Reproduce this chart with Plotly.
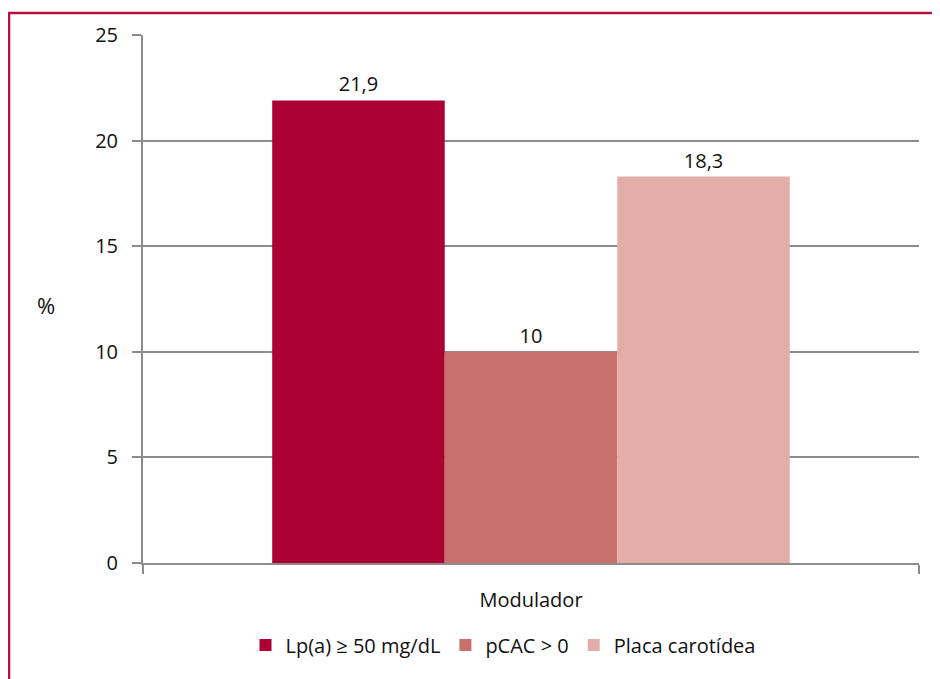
import plotly.graph_objects as go

categories = ["Modulador"]
series_names = ["Lp(a) \u2265 50 mg/dL", "pCAC > 0", "Placa carot\u00eddea"]
series_values = [21.9, 10, 18.3]
series_labels = ["21,9", "10", "18,3"]
series_colors = ["#AC0233", "#C8706B", "#E4AEA8"]
y_ticks = [0, 5, 10, 15, 20, 25]

W, H = 940, 679
OFF = 8  # page body margin
# target plot area in screen coordinates
sx0, sx1, sy0, sy1 = 143, 919, 35, 563
L, T = sx0 - OFF, sy0 - OFF
R = W - (sx1 - OFF)
B = H - (sy1 - OFF)
pw, ph = sx1 - sx0, sy1 - sy0


def px(x):
    return (x - sx0) / pw


def py(y):
    return (sy1 - y) / ph


FONT = "Open Sans"
FS = 20
fig = go.Figure()
for name, v, lab, c in zip(series_names, series_values, series_labels, series_colors):
    fig.add_trace(go.Bar(
        x=categories, y=[v], name=name, marker=dict(color=c, line=dict(width=0)),
        text=[lab], textposition="outside", cliponaxis=False,
        textfont=dict(size=FS, color="#111111", family=FONT),
    ))

# outer border (left + top visible)
fig.add_shape(type="rect", xref="paper", yref="paper",
              x0=px(9), x1=px(W + 20), y0=py(H + 30), y1=py(13),
              line=dict(color="#B5123F", width=2.5), layer="below")

fig.update_layout(
    width=W, height=H,
    margin=dict(l=L, r=R, t=T, b=B, pad=0),
    paper_bgcolor="white", plot_bgcolor="white",
    barmode="group", bargap=0.333, bargroupgap=0,
    font=dict(family=FONT, size=FS, color="#111111"),
    showlegend=True,
    legend=dict(orientation="h", x=px(503), xanchor="center", y=py(645), yanchor="middle",
                font=dict(size=FS, family=FONT), itemwidth=30, traceorder="normal"),
)
fig.update_xaxes(
    showline=True, linecolor="#8C8C8C", linewidth=2,
    ticks="outside", tickson="boundaries", ticklen=9, tickwidth=2, tickcolor="#8C8C8C",
    showgrid=False, ticklabelstandoff=18,
    tickfont=dict(size=FS, family=FONT),
)
fig.update_yaxes(
    range=[0, 25], tickvals=y_ticks, ticktext=[str(t) for t in y_ticks],
    showline=True, linecolor="#8C8C8C", linewidth=2,
    ticks="outside", ticklen=9, tickwidth=2, tickcolor="#8C8C8C",
    showgrid=True, gridcolor="#8C8C8C", gridwidth=1.5,
    zeroline=False, ticklabelstandoff=10,
    tickfont=dict(size=FS, family=FONT),
)
fig.add_annotation(text="%", xref="paper", yref="paper", x=px(46), y=py(305),
                   showarrow=False, font=dict(size=22, family=FONT, color="#111111"),
                   xanchor="center", yanchor="middle")

fig.write_html("out.html")
